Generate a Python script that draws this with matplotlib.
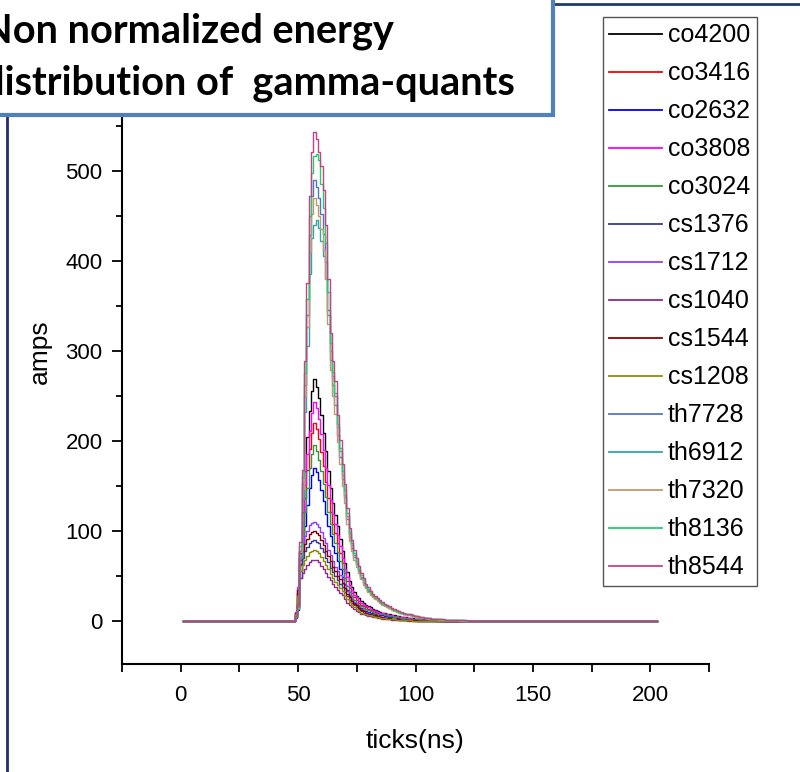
import matplotlib.pyplot as plt
import numpy as np
from matplotlib.patches import Rectangle
from matplotlib.lines import Line2D
from matplotlib.ticker import FixedLocator, MultipleLocator

# =============================================================================
# Data: amps per tick, read off the picture from tick 48 on, zero elsewhere
# =============================================================================
tick_start, tick_end = 1, 203
peak_start = 48

labels = ["co4200", "co3416", "co2632", "co3808", "co3024",
          "cs1376", "cs1712", "cs1040", "cs1544", "cs1208",
          "th7728", "th6912", "th7320", "th8136", "th8544"]

co4200 = [0, 5, 19, 75, 121, 166, 204, 233, 255, 268, 260, 247, 228, 209, 188,
          166, 147, 131, 118, 105, 91, 78, 64, 54, 44, 38, 32, 28, 25, 22,
          20, 18, 16, 15, 13, 12, 11, 10, 9, 9, 8, 7, 6, 6, 5,
          5, 4, 4, 4, 3, 3, 3, 2, 2, 2, 2, 1, 1, 1, 1, 1, 1, 1, 1]
co3416 = [0, 4, 15, 62, 99, 136, 167, 191, 209, 220, 213, 202, 187, 172, 154,
          136, 121, 108, 97, 86, 75, 64, 53, 44, 36, 31, 26, 23, 20, 18,
          16, 15, 13, 12, 11, 10, 9, 8, 8, 7, 6, 6, 5, 5, 4,
          4, 4, 3, 3, 3, 2, 2, 2, 2, 2, 1, 1, 1, 1, 1, 1, 1]
co2632 = [0, 3, 12, 48, 77, 105, 129, 148, 162, 170, 165, 156, 145, 133, 119,
          105, 94, 83, 75, 66, 58, 49, 41, 34, 28, 24, 20, 18, 16, 14,
          12, 11, 10, 9, 9, 8, 7, 6, 6, 5, 5, 4, 4, 4, 3,
          3, 3, 3, 2, 2, 2, 2, 1, 1, 1, 1, 1, 1, 1, 1]
co3808 = [0, 5, 17, 68, 109, 151, 185, 211, 231, 243, 236, 224, 207, 190, 170,
          151, 134, 119, 107, 95, 83, 70, 58, 49, 40, 34, 29, 26, 22, 20,
          18, 16, 15, 13, 12, 11, 10, 9, 9, 8, 7, 6, 6, 5, 5,
          4, 4, 4, 3, 3, 3, 2, 2, 2, 2, 1, 1, 1, 1, 1, 1, 1, 1]
co3024 = [0, 4, 14, 55, 88, 121, 148, 170, 185, 195, 189, 179, 166, 152, 137,
          121, 107, 96, 86, 76, 66, 57, 47, 39, 32, 27, 23, 20, 18, 16,
          14, 13, 12, 11, 10, 9, 8, 7, 7, 6, 6, 5, 5, 4, 4,
          4, 3, 3, 3, 2, 2, 2, 2, 2, 1, 1, 1, 1, 1, 1, 1, 1, 1]
cs1376 = [0, 9, 31, 63, 70, 77, 82, 86, 89, 90, 88, 86, 81, 76, 70,
          65, 59, 54, 50, 45, 41, 38, 32, 27, 23, 20, 17, 15, 13, 11,
          9, 8, 7, 6, 6, 5, 4, 4, 3, 3, 3, 2, 2, 2, 2,
          1, 1, 1, 1, 1, 1, 1]
cs1712 = [0, 10, 38, 77, 86, 94, 100, 106, 109, 110, 108, 104, 99, 92, 86,
          79, 73, 66, 60, 55, 51, 46, 40, 33, 29, 24, 21, 18, 15, 13,
          12, 10, 9, 8, 7, 6, 5, 5, 4, 4, 3, 3, 2, 2, 2,
          2, 2, 1, 1, 1, 1, 1, 1]
cs1040 = [0, 7, 24, 48, 53, 58, 62, 65, 67, 68, 67, 65, 61, 57, 53,
          49, 45, 41, 37, 34, 31, 29, 24, 20, 18, 15, 13, 11, 10, 8,
          7, 6, 5, 5, 4, 4, 3, 3, 2, 2, 2, 2, 1, 1, 1,
          1, 1, 1, 1]
cs1544 = [0, 9, 34, 70, 78, 85, 91, 96, 99, 100, 98, 95, 90, 84, 78,
          72, 66, 60, 55, 50, 46, 42, 36, 30, 26, 22, 19, 17, 14, 12,
          11, 9, 8, 7, 6, 6, 5, 4, 4, 3, 3, 3, 2, 2, 2,
          2, 1, 1, 1, 1, 1, 1, 1]
cs1208 = [0, 8, 28, 55, 62, 67, 72, 76, 78, 79, 77, 75, 71, 66, 62,
          57, 52, 47, 43, 40, 36, 33, 28, 24, 21, 17, 15, 13, 11, 9,
          8, 7, 6, 6, 5, 4, 4, 3, 3, 3, 2, 2, 2, 2, 1,
          1, 1, 1, 1, 1, 1]
th7728 = [0, 4, 14, 78, 152, 262, 340, 428, 472, 490, 482, 470, 452, 430, 398,
          345, 290, 262, 240, 206, 182, 157, 137, 113, 93, 81, 71, 63, 55, 48,
          42, 37, 33, 30, 27, 25, 23, 21, 19, 17, 16, 14, 13, 12, 11,
          10, 9, 8, 7, 6, 6, 5, 5, 4, 4, 3, 3,
          3, 2, 2, 2, 2, 2, 1, 1, 1, 1, 1, 1, 1, 1, 1, 1]
th6912 = [0, 4, 13, 70, 135, 232, 305, 385, 425, 440, 445, 436, 422, 405, 380,
          340, 300, 272, 250, 215, 188, 162, 140, 116, 96, 84, 73, 64, 56, 49,
          43, 38, 34, 31, 28, 25, 23, 21, 19, 17, 16, 14, 13, 12, 11,
          10, 9, 8, 7, 7, 6, 5, 5, 4, 4, 3, 3,
          3, 3, 2, 2, 2, 2, 2, 1, 1, 1, 1, 1, 1, 1, 1, 1, 1]
th7320 = [0, 5, 14, 76, 146, 250, 326, 410, 452, 470, 462, 450, 435, 412, 380,
          330, 278, 250, 230, 198, 174, 150, 131, 108, 89, 78, 68, 60, 53, 46,
          40, 36, 32, 29, 26, 24, 22, 20, 18, 16, 15, 14, 12, 11, 10,
          9, 9, 8, 7, 6, 6, 5, 5, 4, 4, 3, 3,
          3, 2, 2, 2, 2, 1, 1, 1, 1, 1, 1, 1, 1, 1]
th8136 = [0, 5, 15, 83, 160, 275, 357, 450, 497, 516, 518, 512, 485, 458, 420,
          365, 308, 276, 253, 218, 192, 166, 145, 120, 99, 86, 75, 66, 58, 51,
          45, 39, 35, 32, 29, 26, 24, 22, 20, 18, 17, 15, 13, 12, 11,
          10, 9, 8, 7, 7, 6, 6, 5, 5, 4, 4, 3,
          3, 3, 2, 2, 2, 2, 2, 1, 1, 1, 1, 1, 1, 1, 1, 1]
th8544 = [0, 5, 16, 87, 168, 288, 375, 472, 521, 543, 535, 521, 505, 478, 440,
          380, 320, 288, 266, 228, 201, 174, 152, 125, 103, 90, 79, 70, 61, 53,
          47, 41, 37, 33, 30, 27, 25, 23, 21, 19, 17, 16, 14, 13, 12,
          11, 10, 9, 8, 7, 7, 6, 5, 5, 4, 4, 3,
          3, 3, 2, 2, 2, 2, 2, 2, 1, 1, 1, 1, 1, 1, 1, 1, 1, 1]

series = [co4200, co3416, co2632, co3808, co3024,
          cs1376, cs1712, cs1040, cs1544, cs1208,
          th7728, th6912, th7320, th8136, th8544]

colors = ["#000000", "#ff0000", "#0000ff", "#ff00ff", "#2e9b3a",
          "#3a3a8c", "#8f3fff", "#8e2a8e", "#8b0000", "#8c8c00",
          "#4e79c0", "#2fa8a8", "#c09a6a", "#20d060", "#c8408c"]

y_labelled = [0, 100, 200, 300, 400, 500]

plt.rcParams["font.family"] = ["Liberation Sans", "DejaVu Sans"]
plt.rcParams["xtick.labelsize"] = 16
plt.rcParams["ytick.labelsize"] = 16

# =============================================================================
# Plot
# =============================================================================
fig = plt.figure(figsize=(8.0, 7.72), dpi=100)
ax = fig.add_axes([122 / 800, 108 / 772, 587 / 800, 624 / 772])

ticks = np.arange(tick_start, tick_end + 1)
for vals, col, lab in zip(series, colors, labels):
    amps = np.zeros(len(ticks))
    i0 = peak_start - tick_start
    amps[i0:i0 + len(vals)] = vals
    ax.plot(ticks, amps, drawstyle="steps-mid", color=col, lw=1.0, label=lab)

ax.set_xlim(-25, 225)
ax.set_ylim(-48, 645)
for side in ("top", "right"):
    ax.spines[side].set_visible(False)
for side in ("left", "bottom"):
    ax.spines[side].set_linewidth(1.5)

ax.xaxis.set_major_locator(MultipleLocator(50))
ax.xaxis.set_minor_locator(MultipleLocator(25))
ax.yaxis.set_major_locator(FixedLocator(y_labelled))
ax.yaxis.set_minor_locator(MultipleLocator(50))
ax.tick_params(axis="both", which="both", direction="out", width=1.3)
ax.tick_params(axis="x", which="both", length=6, pad=9)
ax.tick_params(axis="y", which="major", length=7, pad=7)
ax.tick_params(axis="y", which="minor", length=4)

ax.set_xlabel("ticks(ns)", fontsize=19)
ax.set_ylabel("amps", fontsize=19)
ax.xaxis.label.set_va("center")
ax.yaxis.label.set_va("center")
ax.xaxis.set_label_coords(0.5, -77 / 624)
ax.yaxis.set_label_coords(-82 / 587, 0.5)

leg = ax.legend(loc="upper left", bbox_to_anchor=(603 / 800, 1 - 17 / 772),
                bbox_transform=fig.transFigure, borderaxespad=0,
                fontsize=18, frameon=True,
                fancybox=False, framealpha=1, edgecolor="#555555",
                borderpad=0.25, labelspacing=0.56, handlelength=2.1,
                handletextpad=0.25)
leg.get_frame().set_linewidth(1.0)
for ln in leg.get_lines():
    ln.set_linewidth(1.3)

# slide decorations: navy rules and the title box
fig.add_artist(Line2D([6.5 / 800, 6.5 / 800], [0, 1], color="#1f2f6f",
                      lw=2.0, transform=fig.transFigure, zorder=5))
fig.add_artist(Line2D([0, 1], [1 - 4 / 772, 1 - 4 / 772], color="#1f3a6f",
                      lw=2.0, transform=fig.transFigure, zorder=5))
fig.add_artist(Rectangle((-0.05, 1 - 115 / 772), 0.05 + 553 / 800, 0.2,
                         transform=fig.transFigure, facecolor="white",
                         edgecolor="#4f81bd", lw=3.0, zorder=10))
title_lines = ["Non normalized energy", "distribution of  gamma-quants"]
for line, base in zip(title_lines, (43, 95)):
    fig.text(-18 / 800, 1 - base / 772, line,
             family=["Lato", "DejaVu Sans"], fontweight="bold",
             fontsize=28.6, ha="left", va="baseline", zorder=11)

fig.savefig("out.png", dpi=100)
